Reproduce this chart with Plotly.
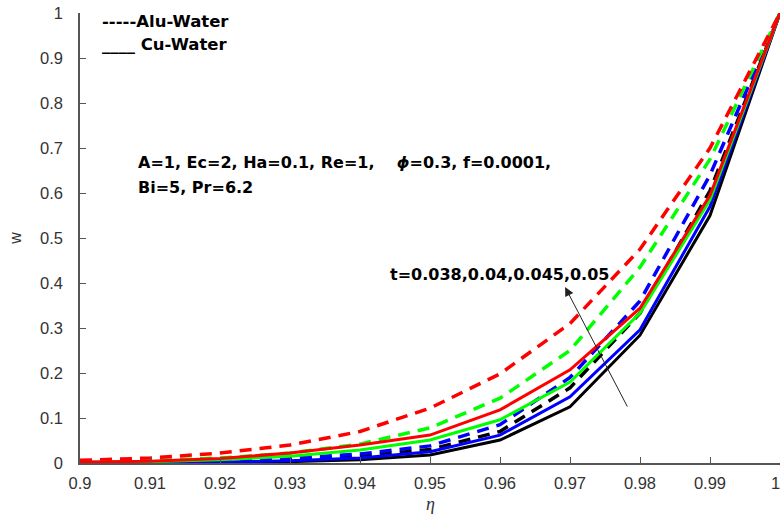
import plotly.graph_objects as go

eta = [0.90, 0.91, 0.92, 0.93, 0.94, 0.95, 0.96, 0.97, 0.98, 0.99, 1.00]

# Alu-Water (dashed), t = 0.038, 0.04, 0.045, 0.05
alu_black = [0.000, 0.001, 0.003, 0.007, 0.015, 0.030, 0.070, 0.167, 0.333, 0.605, 1.0]
alu_blue = [0.001, 0.002, 0.005, 0.010, 0.020, 0.038, 0.085, 0.190, 0.360, 0.640, 1.0]
alu_green = [0.002, 0.005, 0.011, 0.022, 0.042, 0.078, 0.144, 0.250, 0.435, 0.675, 1.0]
alu_red = [0.006, 0.011, 0.022, 0.040, 0.070, 0.122, 0.198, 0.310, 0.475, 0.700, 1.0]

# Cu-Water (solid)
cu_black = [0.000, 0.000, 0.001, 0.003, 0.007, 0.018, 0.051, 0.125, 0.284, 0.550, 1.0]
cu_blue = [0.000, 0.001, 0.002, 0.005, 0.011, 0.025, 0.062, 0.147, 0.296, 0.570, 1.0]
cu_green = [0.001, 0.003, 0.007, 0.015, 0.029, 0.051, 0.096, 0.180, 0.333, 0.585, 1.0]
cu_red = [0.002, 0.004, 0.010, 0.022, 0.040, 0.062, 0.118, 0.207, 0.344, 0.595, 1.0]

x_ticks = [0.90, 0.91, 0.92, 0.93, 0.94, 0.95, 0.96, 0.97, 0.98, 0.99, 1.00]
x_tick_text = ["0.9", "0.91", "0.92", "0.93", "0.94", "0.95", "0.96", "0.97", "0.98", "0.99", "1"]
y_ticks = [0, 0.1, 0.2, 0.3, 0.4, 0.5, 0.6, 0.7, 0.8, 0.9, 1.0]
y_tick_text = ["0", "0.1", "0.2", "0.3", "0.4", "0.5", "0.6", "0.7", "0.8", "0.9", "1"]

colors = ["#000000", "#0000FF", "#00FF00", "#FF0000"]
alu = [alu_black, alu_blue, alu_green, alu_red]
cu = [cu_black, cu_blue, cu_green, cu_red]

fig = go.Figure()
for c, ys in zip(colors, alu):
    fig.add_trace(go.Scatter(x=eta, y=ys, mode="lines",
                             line=dict(color=c, width=3.5, dash="12px,8px"),
                             showlegend=False))
for c, ys in zip(colors, cu):
    fig.add_trace(go.Scatter(x=eta, y=ys, mode="lines",
                             line=dict(color=c, width=3),
                             showlegend=False))

tick_font = dict(family="Liberation Sans, Arial, sans-serif", size=16.5, color="#333333")
bold_font = dict(family="DejaVu Sans, sans-serif", size=16.5, color="#000000")
info_font = dict(family="DejaVu Sans, sans-serif", size=16, color="#000000")

# last x tick label is drawn as an annotation so it stays inside the figure edge
x_tick_shown = x_tick_text[:-1] + [""]

fig.update_layout(
    width=781, height=525,
    margin=dict(l=80, r=1, t=13, b=62),
    paper_bgcolor="white", plot_bgcolor="white",
    xaxis=dict(range=[0.9, 1.0], tickvals=x_ticks, ticktext=x_tick_shown,
               ticks="inside", ticklen=6, tickcolor="#555555", tickwidth=1,
               showline=True, linecolor="#555555", linewidth=1.5,
               showgrid=False, zeroline=False, tickfont=tick_font,
               ticklabelstandoff=4, automargin=False),
    yaxis=dict(range=[0, 1.0], tickvals=y_ticks, ticktext=y_tick_text,
               ticks="inside", ticklen=6, tickcolor="#555555", tickwidth=1,
               showline=True, linecolor="#555555", linewidth=1.5,
               showgrid=False, zeroline=False, tickfont=tick_font,
               ticklabelstandoff=12, automargin=False, ticklabeloverflow="allow",
               title=dict(text="w", font=dict(family="Liberation Sans, Arial, sans-serif", size=16, color="#333333"),
                          standoff=14)),
)

fig.add_annotation(xref="paper", yref="paper", x=1.0, y=-0.045, xanchor="right", yanchor="middle",
                   text=x_tick_text[-1], showarrow=False, font=tick_font, xshift=2)
fig.add_annotation(xref="paper", yref="paper", x=0.5, y=-0.092, xanchor="center", yanchor="middle",
                   text="<i>η</i>", showarrow=False,
                   font=dict(family="Liberation Serif, serif", size=18, color="#333333"))
fig.add_annotation(xref="paper", yref="paper", x=0.028, y=0.982, xanchor="left", yanchor="middle",
                   text="<b>-----Alu-Water</b>", showarrow=False, font=bold_font)
fig.add_annotation(xref="paper", yref="paper", x=0.028, y=0.931, xanchor="left", yanchor="middle",
                   text="<b>____ Cu-Water</b>", showarrow=False, font=bold_font)
fig.add_annotation(xref="paper", yref="paper", x=0.08, y=0.667, xanchor="left", yanchor="middle",
                   text="<b>A=1, Ec=2, Ha=0.1, Re=1,    <i>ϕ</i>=0.3, f=0.0001,</b>",
                   showarrow=False, font=info_font)
fig.add_annotation(xref="paper", yref="paper", x=0.08, y=0.613, xanchor="left", yanchor="middle",
                   text="<b>Bi=5, Pr=6.2</b>", showarrow=False, font=info_font)
fig.add_annotation(xref="paper", yref="paper", x=0.44, y=0.42, xanchor="left", yanchor="middle",
                   text="<b>t=0.038,0.04,0.045,0.05</b>", showarrow=False, font=info_font)
fig.add_annotation(x=0.9693, y=0.391, xref="x", yref="y", ax=63, ay=121, axref="pixel", ayref="pixel",
                   text="", showarrow=True, arrowhead=2, arrowsize=1.8, arrowwidth=1, arrowcolor="#222222")

fig.write_html("out.html", config={"displayModeBar": False},
               post_script="document.body.style.margin='0px';")
